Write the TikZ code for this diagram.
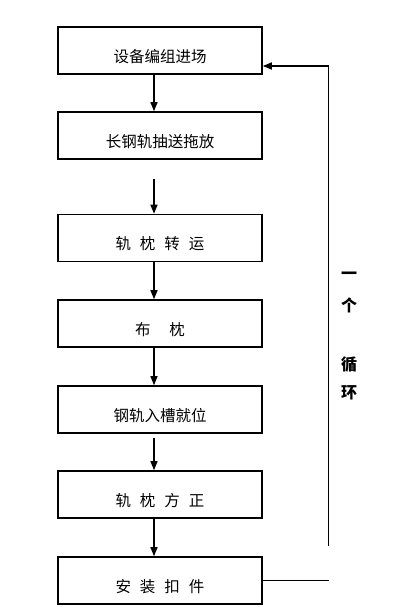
\documentclass[tikz,border=0pt]{standalone}
\usepackage{fontspec}
\newfontfamily\cjk{Noto Sans CJK SC}
\usetikzlibrary{arrows.meta}
\tikzset{
  stepbox/.style={draw=black, line width=1.6pt, minimum width=204pt, minimum height=47pt, inner sep=0pt, text height=25pt, text depth=1.5pt, font=\cjk\fontsize{15.5}{18}\selectfont},
  arr/.style={draw=black, line width=1.3pt, -{Triangle[width=7pt,length=9pt]}},
  fbline/.style={draw=black, line width=1.6pt},
  sidetxt/.style={font=\cjk\bfseries\fontsize{16}{18}\selectfont, inner sep=0pt}
}
\begin{document}
\begin{tikzpicture}[x=1pt,y=-1pt]
\useasboundingbox (0,0) rectangle (410,613);
\node[stepbox] (b1) at (160,50.5) {设备编组进场};
\node[stepbox] (b2) at (160,135.5) {长钢轨抽送拖放};
\node[stepbox] (b3) at (160,238) {轨\hspace{9pt}枕\hspace{9pt}转\hspace{9pt}运};
\node[stepbox] (b4) at (160,323.5) {布\hspace{19pt}枕};
\node[stepbox] (b5) at (160,409.5) {钢轨入槽就位};
\node[stepbox] (b6) at (160,494.5) {轨\hspace{9pt}枕\hspace{9pt}方\hspace{9pt}正};
\node[stepbox] (b7) at (160,580.5) {安\hspace{9pt}装\hspace{9pt}扣\hspace{9pt}件};
\draw[arr] ([xshift=-6pt]b1.south) -- ([xshift=-6pt]b2.north);
\draw[arr] ([xshift=-6pt,yshift=-19pt]b2.south) -- ([xshift=-6pt]b3.north);
\draw[arr] ([xshift=-6pt]b3.south) -- ([xshift=-6pt]b4.north);
\draw[arr] ([xshift=-6pt]b4.south) -- ([xshift=-6pt]b5.north);
\draw[arr] ([xshift=-6pt,yshift=-4pt]b5.south) -- ([xshift=-6pt]b6.north);
\draw[arr] ([xshift=-6pt]b6.south) -- ([xshift=-6pt]b7.north);
\coordinate (fbtop) at (328.5,66);
\coordinate (fbbot) at (328.5,546);
\coordinate (fbend) at (328.5,580.5);
\draw[fbline, -{Triangle[width=7pt,length=9pt]}] (fbbot) -- (fbtop) -- (fbtop -| b1.east);
\draw[fbline] (b7.east) -- (fbend);
\node[sidetxt] (t1) at (349,276) {一};
\node[sidetxt] (t2) at (349,305) {个};
\node[sidetxt] (t3) at (349,365) {循};
\node[sidetxt] (t4) at (349,393) {环};
\end{tikzpicture}
\end{document}
